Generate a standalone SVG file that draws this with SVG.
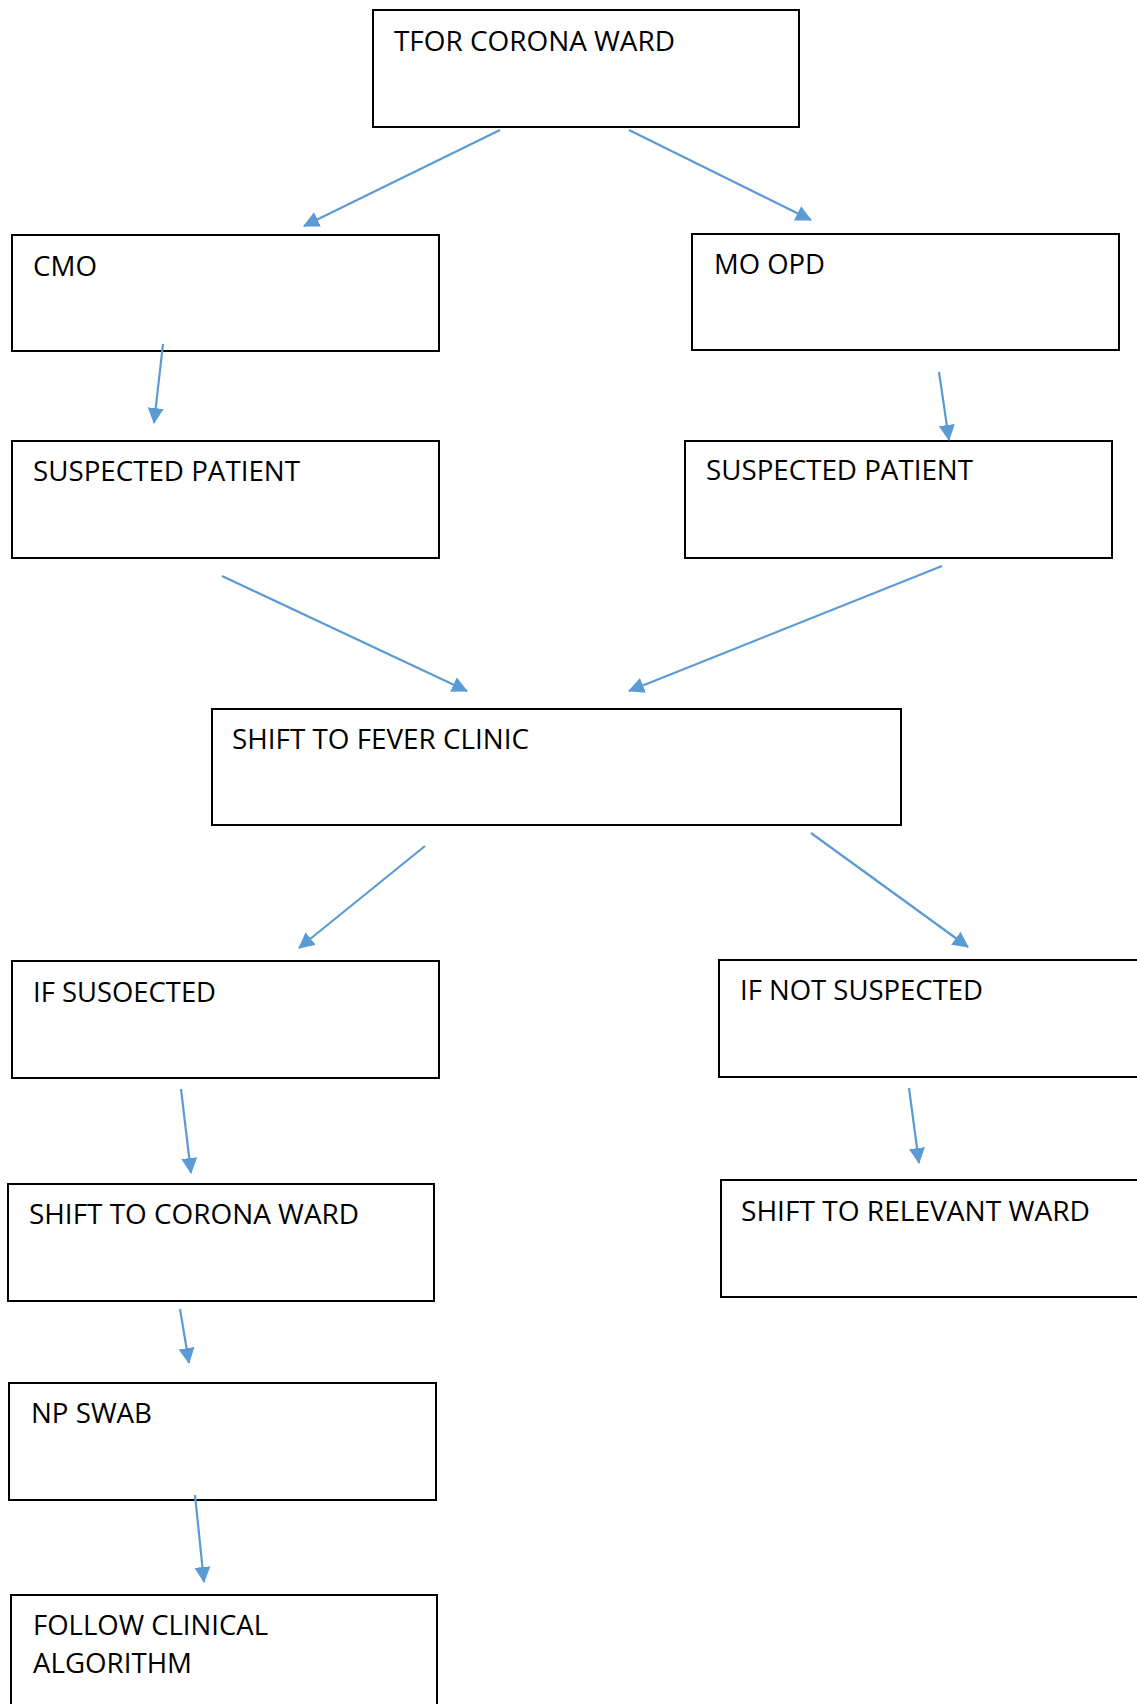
<svg xmlns="http://www.w3.org/2000/svg" width="1137" height="1704" viewBox="0 0 1137 1704">
<style>
.box{fill:#fff;stroke:#000;stroke-width:2}
.lbl{font-family:"Open Sans","Liberation Sans",sans-serif;font-size:28px;fill:#000}
.conn{stroke:#5B9BD5;stroke-width:2.2;fill:none;marker-end:url(#ah)}
</style>
<defs>
<marker id="ah" markerUnits="userSpaceOnUse" markerWidth="16" markerHeight="16" refX="15" refY="8" orient="auto" viewBox="0 0 16 16">
<path d="M0,0 L16,8 L0,16 z" fill="#5B9BD5"/>
</marker>
</defs>
<rect width="1137" height="1704" fill="#fff"/>
<g id="n-top"><rect class="box" x="373" y="10" width="426" height="117"/><text class="lbl" x="394" y="51" textLength="281" lengthAdjust="spacingAndGlyphs">TFOR CORONA WARD</text></g>
<g id="n-cmo"><rect class="box" x="12" y="235" width="427" height="116"/><text class="lbl" x="33" y="276" textLength="64" lengthAdjust="spacingAndGlyphs">CMO</text></g>
<g id="n-moopd"><rect class="box" x="692" y="234" width="427" height="116"/><text class="lbl" x="714" y="274" textLength="111" lengthAdjust="spacingAndGlyphs">MO OPD</text></g>
<g id="n-sp-left"><rect class="box" x="12" y="441" width="427" height="117"/><text class="lbl" x="33" y="481" textLength="267" lengthAdjust="spacingAndGlyphs">SUSPECTED PATIENT</text></g>
<g id="n-sp-right"><rect class="box" x="685" y="441" width="427" height="117"/><text class="lbl" x="706" y="480" textLength="267" lengthAdjust="spacingAndGlyphs">SUSPECTED PATIENT</text></g>
<g id="n-fever"><rect class="box" x="212" y="709" width="689" height="116"/><text class="lbl" x="232" y="749" textLength="297" lengthAdjust="spacingAndGlyphs">SHIFT TO FEVER CLINIC</text></g>
<g id="n-ifsus"><rect class="box" x="12" y="961" width="427" height="117"/><text class="lbl" x="33" y="1002" textLength="183" lengthAdjust="spacingAndGlyphs">IF SUSOECTED</text></g>
<g id="n-ifnot"><rect class="box" x="719" y="960" width="430" height="117"/><text class="lbl" x="740" y="1000" textLength="243" lengthAdjust="spacingAndGlyphs">IF NOT SUSPECTED</text></g>
<g id="n-corona"><rect class="box" x="8" y="1184" width="426" height="117"/><text class="lbl" x="29" y="1224" textLength="330" lengthAdjust="spacingAndGlyphs">SHIFT TO CORONA WARD</text></g>
<g id="n-relevant"><rect class="box" x="721" y="1180" width="430" height="117"/><text class="lbl" x="741" y="1221" textLength="349" lengthAdjust="spacingAndGlyphs">SHIFT TO RELEVANT WARD</text></g>
<g id="n-swab"><rect class="box" x="9" y="1383" width="427" height="117"/><text class="lbl" x="31" y="1423" textLength="121" lengthAdjust="spacingAndGlyphs">NP SWAB</text></g>
<g id="n-follow"><rect class="box" x="11" y="1595" width="426" height="130"/><text class="lbl" x="33" y="1635" textLength="235" lengthAdjust="spacingAndGlyphs">FOLLOW CLINICAL</text><text class="lbl" x="33" y="1673" textLength="159" lengthAdjust="spacingAndGlyphs">ALGORITHM</text></g>
<g id="connectors">
<line class="conn" x1="500" y1="130" x2="304" y2="226"/>
<line class="conn" x1="629" y1="130" x2="811" y2="220"/>
<line class="conn" x1="163" y1="344" x2="154" y2="423"/>
<line class="conn" x1="939" y1="372" x2="949" y2="440"/>
<line class="conn" x1="222" y1="576" x2="467" y2="691"/>
<line class="conn" x1="942" y1="566" x2="629" y2="691"/>
<line class="conn" x1="425" y1="846" x2="299" y2="948"/>
<line class="conn" x1="811" y1="833" x2="968" y2="947"/>
<line class="conn" x1="181" y1="1089" x2="191" y2="1173"/>
<line class="conn" x1="909" y1="1088" x2="919" y2="1163"/>
<line class="conn" x1="180" y1="1309" x2="189" y2="1363"/>
<line class="conn" x1="195" y1="1495" x2="204" y2="1582"/>
</g>
</svg>
